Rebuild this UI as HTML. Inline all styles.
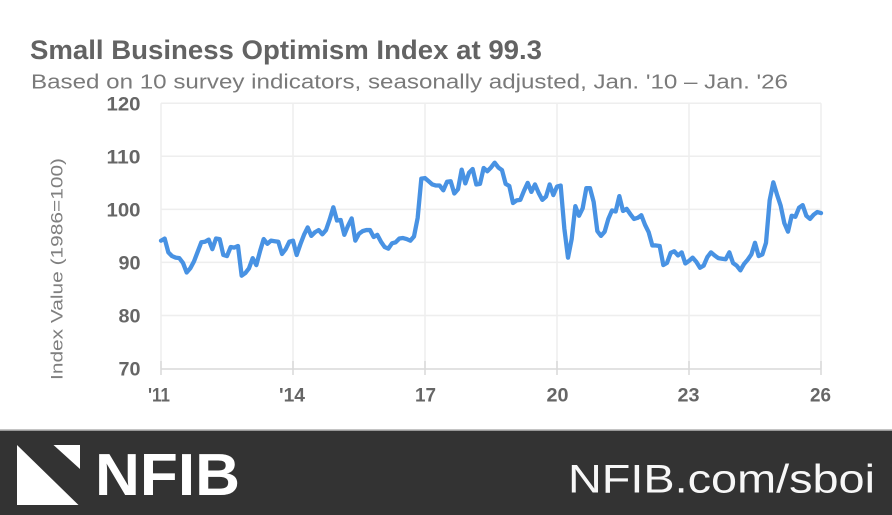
<!DOCTYPE html>
<html>
<head>
<meta charset="utf-8">
<style>
  html, body { margin: 0; padding: 0; background: #ffffff; }
  body { width: 892px; height: 515px; overflow: hidden; }
  svg { display: block; }
  text { font-family: "Liberation Sans", "DejaVu Sans", sans-serif; }
</style>
</head>
<body>
<svg width="892" height="515" viewBox="0 0 892 515" xmlns="http://www.w3.org/2000/svg">
  <rect x="0" y="0" width="892" height="515" fill="#ffffff"/>

  <!-- Title -->
  <text x="30" y="59" font-size="27" font-weight="bold" fill="#636363" textLength="512" lengthAdjust="spacingAndGlyphs">Small Business Optimism Index at 99.3</text>
  <text x="31" y="88.5" font-size="20" fill="#7a7a7a" textLength="757" lengthAdjust="spacingAndGlyphs">Based on 10 survey indicators, seasonally adjusted,  Jan. '10 – Jan. '26</text>

  <!-- Horizontal gridlines -->
  <g stroke="#eeeeee" stroke-width="1.5">
    <line x1="161" y1="103.3" x2="821" y2="103.3"/>
    <line x1="161" y1="156.3" x2="821" y2="156.3"/>
    <line x1="161" y1="209.4" x2="821" y2="209.4"/>
    <line x1="161" y1="262.4" x2="821" y2="262.4"/>
    <line x1="161" y1="315.5" x2="821" y2="315.5"/>
  </g>
  <!-- Vertical gridlines -->
  <g stroke="#eeeeee" stroke-width="1.5">
    <line x1="161" y1="103.3" x2="161" y2="369"/>
    <line x1="293" y1="103.3" x2="293" y2="369"/>
    <line x1="425" y1="103.3" x2="425" y2="369"/>
    <line x1="557" y1="103.3" x2="557" y2="369"/>
    <line x1="689" y1="103.3" x2="689" y2="369"/>
    <line x1="821" y1="103.3" x2="821" y2="369"/>
  </g>
  <!-- X axis -->
  <g stroke="#d9d9d9" stroke-width="1.5">
    <line x1="161" y1="369" x2="821" y2="369"/>
    <line x1="161" y1="361" x2="161" y2="375"/>
    <line x1="293" y1="361" x2="293" y2="375"/>
    <line x1="425" y1="361" x2="425" y2="375"/>
    <line x1="557" y1="361" x2="557" y2="375"/>
    <line x1="689" y1="361" x2="689" y2="375"/>
    <line x1="821" y1="361" x2="821" y2="375"/>
  </g>

  <!-- Y labels -->
  <g font-size="19" font-weight="bold" fill="#666666" text-anchor="end">
    <text x="140.5" y="110.3" textLength="34" lengthAdjust="spacingAndGlyphs">120</text>
    <text x="140.5" y="163.3" textLength="34" lengthAdjust="spacingAndGlyphs">110</text>
    <text x="140.5" y="216.4" textLength="34" lengthAdjust="spacingAndGlyphs">100</text>
    <text x="140.5" y="269.4" textLength="22" lengthAdjust="spacingAndGlyphs">90</text>
    <text x="140.5" y="322.5" textLength="22" lengthAdjust="spacingAndGlyphs">80</text>
    <text x="140.5" y="375.5" textLength="22" lengthAdjust="spacingAndGlyphs">70</text>
  </g>

  <!-- X labels -->
  <g font-size="19" font-weight="bold" fill="#666666" text-anchor="middle">
    <text x="159" y="401.5" textLength="22" lengthAdjust="spacingAndGlyphs">'11</text>
    <text x="292" y="401.5" textLength="26" lengthAdjust="spacingAndGlyphs">'14</text>
    <text x="425.5" y="401.5" textLength="21" lengthAdjust="spacingAndGlyphs">17</text>
    <text x="557.5" y="401.5" textLength="22" lengthAdjust="spacingAndGlyphs">20</text>
    <text x="688.5" y="401.5" textLength="22" lengthAdjust="spacingAndGlyphs">23</text>
    <text x="820.5" y="401.5" textLength="21" lengthAdjust="spacingAndGlyphs">26</text>
  </g>

  <!-- Y axis title -->
  <text transform="translate(62.5,269) rotate(-90)" text-anchor="middle" font-size="17" fill="#7f7f7f" textLength="222" lengthAdjust="spacingAndGlyphs">Index Value (1986=100)</text>

  <!-- Series (data coords: month index, value) -->
  <polyline transform="matrix(3.66667 0 0 -5.304 161 739.78)" fill="none" stroke="#4892e3" stroke-width="4.3" stroke-linejoin="round" stroke-linecap="round" vector-effect="non-scaling-stroke"
    points="
0,94.1 1,94.5 2,91.9 3,91.2 4,90.9 5,90.8 6,89.9 7,88.1 8,88.9 9,90.2 10,92.0 11,93.8
12,93.9 13,94.3 14,92.5 15,94.5 16,94.4 17,91.4 18,91.2 19,92.9 20,92.8 21,93.1 22,87.5 23,88.0
24,88.9 25,90.8 26,89.5 27,92.1 28,94.4 29,93.5 30,94.1 31,94.0 32,93.9 33,91.6 34,92.5 35,93.9
36,94.1 37,91.4 38,93.4 39,95.2 40,96.6 41,95.0 42,95.7 43,96.1 44,95.3 45,96.1 46,98.1 47,100.4
48,97.9 49,98.0 50,95.2 51,96.9 52,98.3 53,94.1 54,95.4 55,95.9 56,96.1 57,96.1 58,94.8 59,95.2
60,93.9 61,92.9 62,92.6 63,93.6 64,93.8 65,94.5 66,94.6 67,94.4 68,94.1 69,94.9 70,98.4 71,105.8
72,105.9 73,105.3 74,104.7 75,104.5 76,104.5 77,103.6 78,105.2 79,105.3 80,103.0 81,103.8 82,107.5 83,104.9
84,106.9 85,107.6 86,104.7 87,104.8 88,107.8 89,107.2 90,107.9 91,108.8 92,107.9 93,107.4 94,104.8 95,104.4
96,101.2 97,101.7 98,101.8 99,103.5 100,105.0 101,103.3 102,104.7 103,103.1 104,101.8 105,102.4 106,104.7 107,102.7
108,104.3 109,104.5 110,96.4 111,90.9 112,94.4 113,100.6 114,98.8 115,100.2 116,104.0 117,104.0 118,101.4 119,95.9
120,95.0 121,95.8 122,98.2 123,99.8 124,99.6 125,102.5 126,99.7 127,100.1 128,99.1 129,98.2 130,98.4 131,98.9
132,97.1 133,95.7 134,93.2 135,93.2 136,93.1 137,89.5 138,89.9 139,91.8 140,92.1 141,91.3 142,91.9 143,89.8
144,90.3 145,90.9 146,90.1 147,89.0 148,89.4 149,91.0 150,91.9 151,91.3 152,90.8 153,90.7 154,90.6 155,91.9
156,89.9 157,89.4 158,88.5 159,89.7 160,90.5 161,91.5 162,93.7 163,91.2 164,91.5 165,93.7 166,101.7 167,105.1
168,102.8 169,100.7 170,97.4 171,95.8 172,98.8 173,98.6 174,100.3 175,100.8 176,98.8 177,98.2 178,99.0 179,99.5
180,99.3"/>

  <!-- Footer -->
  <line x1="0" y1="429.5" x2="892" y2="429.5" stroke="#c4c4c4" stroke-width="1"/>
  <rect x="0" y="430.5" width="892" height="84.5" fill="#333333"/>
  <polygon points="17,445 17,505 78.5,505" fill="#ffffff"/>
  <polygon points="53.5,445 80,445 80,469" fill="#ffffff"/>
  <text x="95" y="495" font-size="59" font-weight="bold" fill="#ffffff" textLength="145" lengthAdjust="spacingAndGlyphs">NFIB</text>
  <text x="568" y="492.5" font-size="40" fill="#f7f7f7" textLength="307" lengthAdjust="spacingAndGlyphs">NFIB.com/sboi</text>
</svg>
</body>
</html>
